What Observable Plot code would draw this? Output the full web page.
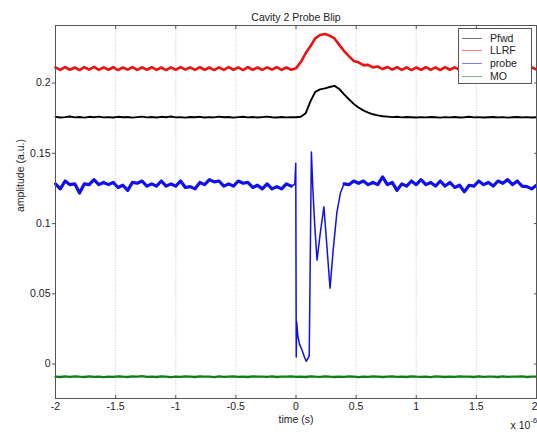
<!DOCTYPE html>
<html><head><meta charset="utf-8">
<script src="https://cdn.jsdelivr.net/npm/d3@7"></script>
<script src="https://cdn.jsdelivr.net/npm/@observablehq/plot@0.6"></script>
<style>
body{margin:0;background:#fff;}
#wrap{position:relative;width:537px;height:432px;overflow:hidden;font-family:"Liberation Sans",Arial,sans-serif;}
#legend{position:absolute;left:458px;top:28px;width:74px;height:56px;border:1px solid #555;background:#fff;box-sizing:border-box;}
.row{position:absolute;left:0;height:13px;font-size:10.5px;color:#222;line-height:13px;width:70px;}
.row .swatch{position:absolute;left:3px;top:6px;width:20px;height:0;border-top:1px solid;opacity:0.55;}
.row span{position:absolute;left:31px;top:0;white-space:nowrap;}
</style></head>
<body><div id="wrap"><div id="legend"></div></div>
<script>
// ---- chart text ----
const chartTitle = "Cavity 2 Probe Blip";
const xLabel = "time (s)";
const yLabel = "amplitude (a.u.)";
const xExponentBase = "x 10";
const xExponent = "-6";
const seriesNames = ["Pfwd", "LLRF", "probe", "MO"];
const seriesColors = ["#000000", "#ee1111", "#1010ee", "#0d7f16"];

// ---- ticks ----
const xTicks = [-2, -1.5, -1, -0.5, 0, 0.5, 1, 1.5, 2];
const xTickLabels = ["-2", "-1.5", "-1", "-0.5", "0", "0.5", "1", "1.5", "2"];
const yTicks = [0, 0.05, 0.1, 0.15, 0.2];
const yTickLabels = ["0", "0.05", "0.1", "0.15", "0.2"];

// ---- sample times (x 1e-6 s) ----
const gridTime = [-2,-1.96,-1.92,-1.88,-1.84,-1.8,-1.76,-1.72,-1.68,-1.64,-1.6,-1.56,-1.52,-1.48,-1.44,-1.4,-1.36,-1.32,-1.28,-1.24,
-1.2,-1.16,-1.12,-1.08,-1.04,-1,-0.96,-0.92,-0.88,-0.84,-0.8,-0.76,-0.72,-0.68,-0.64,-0.6,-0.56,-0.52,-0.48,-0.44,
-0.4,-0.36,-0.32,-0.28,-0.24,-0.2,-0.16,-0.12,-0.08,-0.04,0,0.04,0.08,0.12,0.16,0.2,0.24,0.28,0.32,0.36,
0.4,0.44,0.48,0.52,0.56,0.6,0.64,0.68,0.72,0.76,0.8,0.84,0.88,0.92,0.96,1,1.04,1.08,1.12,1.16,
1.2,1.24,1.28,1.32,1.36,1.4,1.44,1.48,1.52,1.56,1.6,1.64,1.68,1.72,1.76,1.8,1.84,1.88,1.92,1.96,2];

// ---- Pfwd (black) ----
const pfwdValue = [
0.1760,0.1755,0.1758,0.1762,0.1756,0.1759,0.1754,0.1760,0.1757,0.1761,
0.1756,0.1758,0.1755,0.1760,0.1757,0.1759,0.1754,0.1758,0.1761,0.1756,
0.1759,0.1755,0.1760,0.1757,0.1762,0.1756,0.1758,0.1754,0.1759,0.1757,
0.1760,0.1755,0.1758,0.1756,0.1761,0.1757,0.1759,0.1754,0.1758,0.1760,
0.1756,0.1759,0.1755,0.1758,0.1761,0.1757,0.1755,0.1759,0.1756,0.1758,
0.1757,0.1760,0.1785,0.1870,0.1938,0.1955,0.1962,0.1972,0.1980,0.1958,
0.1920,0.1885,0.1852,0.1826,0.1806,0.1790,0.1778,0.1770,0.1764,
0.1761,0.1758,0.1760,0.1756,0.1759,0.1757,0.1755,0.1758,0.1756,0.1759,
0.1757,0.1754,0.1758,0.1756,0.1759,0.1755,0.1757,0.1760,0.1756,0.1758,
0.1755,0.1757,0.1759,0.1756,0.1758,0.1754,0.1757,0.1759,0.1756,0.1758,
0.1755,0.1757];

// ---- LLRF (red) ----
const llrfValue = [
0.2112,0.2094,0.2114,0.2095,0.2111,0.2093,0.2113,0.2096,0.2115,0.2094,
0.2112,0.2095,0.2113,0.2093,0.2111,0.2096,0.2114,0.2094,0.2112,0.2095,
0.2113,0.2094,0.2111,0.2093,0.2112,0.2095,0.2114,0.2096,0.2112,0.2094,
0.2113,0.2095,0.2111,0.2093,0.2112,0.2094,0.2114,0.2095,0.2112,0.2093,
0.2113,0.2095,0.2111,0.2094,0.2112,0.2096,0.2113,0.2094,0.2111,0.2095,
0.2105,0.2150,0.2212,0.2262,0.2318,0.2342,0.2350,0.2338,0.2318,0.2272,
0.2228,0.2192,0.2158,0.2148,0.2128,0.2130,0.2112,0.2118,0.2100,
0.2115,0.2096,0.2113,0.2094,0.2112,0.2093,0.2111,0.2095,0.2113,0.2094,
0.2112,0.2093,0.2114,0.2095,0.2112,0.2094,0.2111,0.2093,0.2113,0.2095,
0.2112,0.2094,0.2114,0.2096,0.2112,0.2094,0.2113,0.2095,0.2111,0.2094,
0.2113,0.2096];

// ---- MO (green) ----
const moValue = [
-0.0089,-0.0092,-0.0088,-0.0091,-0.0087,-0.0090,-0.0092,-0.0088,-0.0091,-0.0089,
-0.0093,-0.0089,-0.0091,-0.0087,-0.0090,-0.0092,-0.0088,-0.0090,-0.0086,-0.0091,
-0.0089,-0.0092,-0.0088,-0.0090,-0.0093,-0.0089,-0.0091,-0.0088,-0.0090,-0.0092,
-0.0087,-0.0090,-0.0089,-0.0093,-0.0088,-0.0091,-0.0089,-0.0087,-0.0091,-0.0090,
-0.0092,-0.0088,-0.0090,-0.0089,-0.0091,-0.0088,-0.0092,-0.0089,-0.0090,-0.0088,
-0.0091,-0.0089,-0.0092,-0.0088,-0.0090,-0.0091,-0.0087,-0.0090,-0.0092,-0.0089,
-0.0091,-0.0088,-0.0090,-0.0093,-0.0089,-0.0091,-0.0088,-0.0090,-0.0092,-0.0089,
-0.0087,-0.0091,-0.0089,-0.0092,-0.0088,-0.0090,-0.0091,-0.0089,-0.0093,-0.0088,
-0.0090,-0.0092,-0.0089,-0.0091,-0.0087,-0.0090,-0.0089,-0.0092,-0.0088,-0.0091,
-0.0089,-0.0090,-0.0092,-0.0088,-0.0091,-0.0089,-0.0090,-0.0088,-0.0092,-0.0089,
-0.0090];

// ---- probe (blue) ----
const probeBeforeValue = [
0.1283,0.1247,0.1303,0.1277,0.1283,0.1217,0.1283,0.1277,0.1313,0.1277,
0.1293,0.1277,0.1293,0.1257,0.1273,0.1237,0.1293,0.1287,0.1303,0.1267,
0.1283,0.1267,0.1303,0.1267,0.1283,0.1267,0.1303,0.1257,0.1263,0.1247,
0.1293,0.1277,0.1313,0.1297,0.1303,0.1267,0.1283,0.1267,0.1303,0.1287,
0.1293,0.1257,0.1273,0.1247,0.1283,0.1247,0.1263,0.1247,0.1283,0.1267];
const probeEventTime = [-0.01,-0.002,0.002,0.006,0.015,0.03,0.05,0.07,0.085,0.1,0.11,0.118,
0.128,0.14,0.155,0.175,0.2,0.232,0.255,0.283,0.31,0.34,0.37];
const probeEventValue = [0.128,0.143,0.005,0.030,0.020,0.014,0.010,0.005,0.002,0.004,0.006,0.070,
0.151,0.125,0.100,0.074,0.092,0.112,0.086,0.054,0.082,0.108,0.122];
const probeAfterValue = [
0.1283,0.1277,0.1303,0.1287,0.1303,0.1277,0.1293,0.1277,0.1333,0.1277,
0.1293,0.1237,0.1283,0.1267,0.1303,0.1277,0.1313,0.1277,0.1293,0.1267,
0.1303,0.1267,0.1293,0.1257,0.1273,0.1227,0.1273,0.1267,0.1303,0.1277,
0.1293,0.1267,0.1303,0.1287,0.1313,0.1277,0.1303,0.1267,0.1263,0.1247,
0.1273];

// ---- build tables ----
const rows = (ts, vs) => ts.map((t, i) => ({t, v: vs[i]}));
const pfwdRows = rows(gridTime, pfwdValue);
const llrfRows = rows(gridTime, llrfValue);
const moRows = rows(gridTime, moValue);
const probeTime = [...gridTime.slice(0, 50), ...probeEventTime, ...gridTime.slice(60)];
const probeValue = [...probeBeforeValue, ...probeEventValue, ...probeAfterValue];
const probeRows = rows(probeTime, probeValue);
const probePre = probeRows.filter(d => d.t <= -0.04);
const probeEvent = probeRows.filter(d => d.t >= -0.04 && d.t <= 0.4);
const probePost = probeRows.filter(d => d.t >= 0.4);

const lastX = xTicks[xTicks.length - 1];
const innerXTicks = xTicks.slice(0, -1);
const xFmt = d => xTickLabels[xTicks.indexOf(d)];

const font = "Liberation Sans, Arial, Helvetica, sans-serif";
const chart = Plot.plot({
  width: 537, height: 432,
  marginTop: 25, marginRight: 1, marginBottom: 34, marginLeft: 55,
  x: {domain: [-2, 2]},
  y: {domain: [-0.0245, 0.241]},
  style: {fontFamily: font, fontSize: "11px", color: "#222", background: "white", overflow: "visible"},
  marks: [
    Plot.gridX(xTicks, {stroke: "#999", strokeOpacity: 0.5, strokeDasharray: "1,1.5"}),
    Plot.line(pfwdRows, {x: "t", y: "v", stroke: seriesColors[0], strokeWidth: 1.9}),
    Plot.line(llrfRows, {x: "t", y: "v", stroke: seriesColors[1], strokeWidth: 2.6}),
    Plot.line(probePre, {x: "t", y: "v", stroke: seriesColors[2], strokeWidth: 3.2}),
    Plot.line(probeEvent, {x: "t", y: "v", stroke: seriesColors[2], strokeWidth: 1.5}),
    Plot.line(probePost, {x: "t", y: "v", stroke: seriesColors[2], strokeWidth: 3.2}),
    Plot.line(moRows, {x: "t", y: "v", stroke: seriesColors[3], strokeWidth: 2.3}),
    Plot.frame({stroke: "#555"}),
    Plot.axisY(yTicks, {anchor: "left", tickSize: 3, tickPadding: 2, stroke: "#555",
      tickFormat: d => yTickLabels[yTicks.indexOf(d)], label: null, fontSize: 10.5}),
    Plot.axisY(yTicks, {anchor: "right", tickSize: -3, stroke: "#555", tickFormat: () => "", label: null}),
    Plot.axisX(innerXTicks, {anchor: "bottom", tickSize: -3, tickPadding: 7, stroke: "#555",
      tickFormat: xFmt, label: null, fontSize: 10.5}),
    Plot.text([lastX], {x: d => d, text: xFmt, frameAnchor: "bottom", lineAnchor: "top", dy: 4, dx: 1,
      textAnchor: "end", fontSize: 10.5}),
    Plot.axisX(xTicks, {anchor: "top", tickSize: -3, stroke: "#555", tickFormat: () => "", label: null}),
    Plot.text([chartTitle], {text: d => d, frameAnchor: "top", dy: -12, fontSize: 10.5}),
    Plot.text([xLabel], {text: d => d, frameAnchor: "bottom", dy: 24, fontSize: 10.5}),
    Plot.text([yLabel], {text: d => d, frameAnchor: "left", dx: -35, rotate: -90, fontSize: 10.5}),
    Plot.text([xExponentBase], {text: d => d, frameAnchor: "bottom-right", dx: -26, dy: 30, textAnchor: "start", fontSize: 10.5}),
    Plot.text([xExponent], {text: d => d, frameAnchor: "bottom-right", dx: -6, dy: 24, textAnchor: "start", fontSize: 7.5})
  ]
});
const wrap = document.getElementById("wrap");
wrap.prepend(chart);

// legend
const legend = document.getElementById("legend");
seriesNames.forEach((name, i) => {
  const row = document.createElement("div");
  row.className = "row";
  row.style.top = (2.5 + i * 12.8) + "px";
  const sw = document.createElement("div");
  sw.className = "swatch";
  sw.style.borderTopColor = seriesColors[i];
  const label = document.createElement("span");
  label.textContent = name;
  row.appendChild(sw);
  row.appendChild(label);
  legend.appendChild(row);
});
</script>
</body></html>
